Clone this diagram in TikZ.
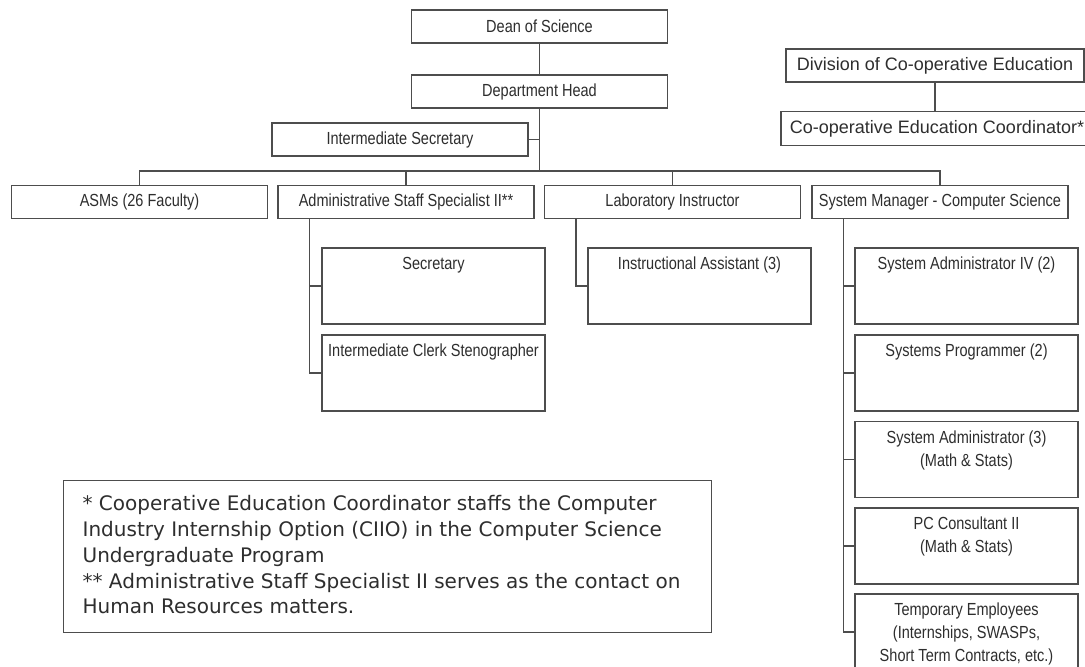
\documentclass[tikz,border=0pt]{standalone}
\usepackage{fontspec}
\newfontfamily\boxfont[FakeStretch=0.83]{Liberation Sans}
\newfontfamily\coopfont{Liberation Sans}
\newfontfamily\notefont{DejaVu Sans}
\definecolor{linegray}{HTML}{4D4D4D}
\definecolor{inkgray}{HTML}{2E2E2E}
\newcommand{\celltext}[1]{\parbox[c][76pt][t]{223pt}{\centering\rule{0pt}{21.5pt}#1}}

\begin{document}
\begin{tikzpicture}[x=1pt,y=-1pt,
		staffbox/.style={draw=linegray, line width=1.3pt, fill=white, text=inkgray, inner sep=0pt, minimum width=256pt, minimum height=33pt, font=\boxfont\fontsize{17.5}{23}\selectfont},
		cellbox/.style={staffbox, minimum width=0pt, minimum height=0pt},
		coopbox/.style={staffbox, font=\coopfont\fontsize{18}{22}\selectfont},
		notebox/.style={draw=linegray, line width=1.3pt, text=inkgray, inner xsep=19pt, inner ysep=0pt, font=\notefont\fontsize{20}{25.8}\selectfont},
		link/.style={draw=linegray, line width=1.3pt}]
		\path[use as bounding box, fill=white] (0,0) rectangle (1085,667);
		\clip (0,0) rectangle (1085,667);
		
		\node[staffbox] (dean) at (539.5,26.5) {Dean of Science};
		\node[staffbox] (dept) at (539.5,91.5) {Department Head};
		\node[staffbox] (intsec) at (400,139.5) {Intermediate Secretary};
		\coordinate (bus) at (539.5,171);
		
		\node[staffbox] (asms) at (139.5,202) {ASMs (26 Faculty)};
		\node[staffbox] (admin) at (406,202) {Administrative Staff Specialist II**};
		\node[staffbox] (lab) at (672.5,202) {Laboratory Instructor};
		\node[staffbox] (sysmgr) at (940,202) {System Manager - Computer Science};
		
		\node[coopbox, minimum width=298pt] (division) at (935,65.5) {Division of Co-operative Education};
		\node[coopbox, minimum width=312pt, minimum height=34pt] (coord) at (937,128.5) {Co-operative Education Coordinator*};
		
		\node[cellbox] (sec) at (433.5,286) {\celltext{Secretary}};
		\node[cellbox] (clerk) at (433.5,373) {\celltext{Intermediate Clerk Stenographer}};
		\node[cellbox] (ia) at (699.5,286) {\celltext{Instructional Assistant (3)}};
		
		\node[cellbox] (sa4) at (966.5,286) {\celltext{System Administrator IV (2)}};
		\node[cellbox] (sp) at (966.5,373) {\celltext{Systems Programmer (2)}};
		\node[cellbox] (sa3) at (966.5,459.5) {\celltext{System Administrator (3)\\(Math \& Stats)}};
		\node[cellbox] (pc) at (966.5,546) {\celltext{PC Consultant II\\(Math \& Stats)}};
		\node[cellbox] (temp) at (966.5,632) {\celltext{Temporary Employees\\(Internships, SWASPs,\\Short Term Contracts, etc.)}};
		
		\node[notebox, anchor=north west] (note) at (63,480) {\parbox[c][152pt][t]{610pt}{\raggedright\rule{0pt}{30pt}* Cooperative Education Coordinator staffs the Computer\\Industry Internship Option (CIIO) in the Computer Science\\Undergraduate Program\\{}** Administrative Staff Specialist II serves as the contact on\\Human Resources matters.}};
		
		\draw[link] (dean) -- (dept);
		\draw[link] (dept) -- (bus);
		\draw[link] (intsec.east) -- (intsec.east -| dept.south);
		\draw[link] (asms.north) |- (bus) -| (sysmgr.north);
		\draw[link] (admin.north) -- (admin.north |- bus);
		\draw[link] (lab.north) -- (lab.north |- bus);
		\draw[link] (division) -- (division |- coord.north);
		
		\draw[link] ([xshift=32pt]admin.south west) |- (clerk.west);
		\draw[link] (sec.west) -- ++(-12,0);
		\draw[link] ([xshift=32pt]lab.south west) |- (ia.west);
		\draw[link] ([xshift=32pt]sysmgr.south west) |- (temp.west);
		\foreach \n in {sa4,sp,sa3,pc}
		\draw[link] (\n.west) -- ++(-11,0);
\end{tikzpicture}
\end{document}
